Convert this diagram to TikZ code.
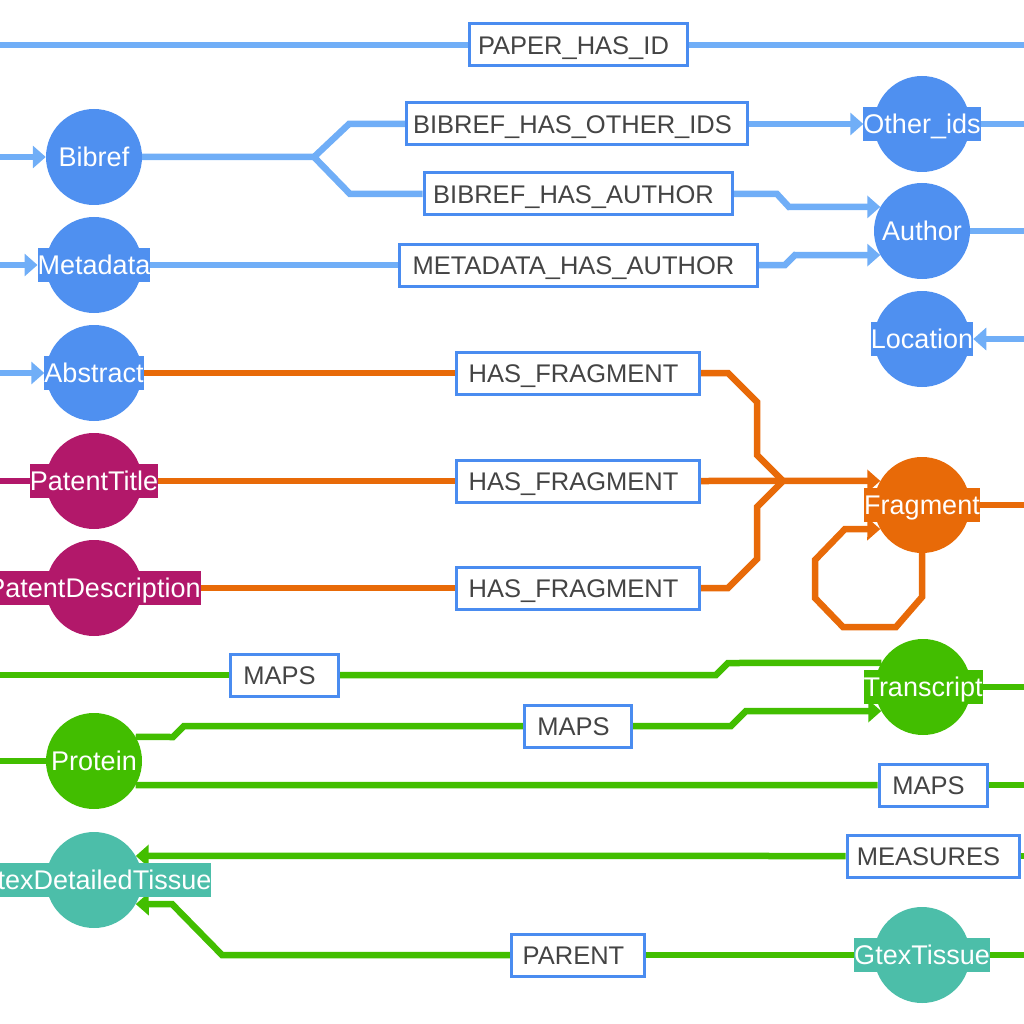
\documentclass[tikz,border=0pt]{standalone}
\usepackage{fontspec}
\setmainfont{Liberation Sans}
\usetikzlibrary{arrows.meta}
\definecolor{nblue}{RGB}{79,144,240}
\definecolor{eblue}{RGB}{112,174,247}
\definecolor{eorange}{RGB}{232,106,8}
\definecolor{nmag}{RGB}{178,24,106}
\definecolor{egreen}{RGB}{66,190,0}
\definecolor{nteal}{RGB}{76,190,169}
\definecolor{lborder}{RGB}{74,140,240}
\definecolor{ltext}{RGB}{68,68,68}
\pgfdeclarelayer{bg}
\pgfsetlayers{bg,main}
\begin{document}
\begin{tikzpicture}[x=1pt,y=-1pt,
  circ/.style={circle, minimum size=96pt, inner sep=0pt, fill=#1},
  nlab/.style={fill=#1, text=white, font=\fontsize{27}{27}\selectfont, inner xsep=0pt, inner ysep=4.5pt, text height=22pt, text depth=3pt},
  elab/.style={draw=lborder, line width=3pt, fill=white, text=ltext, font=\fontsize{25.5}{25.5}\selectfont, minimum height=42pt, inner xsep=0pt, text height=18.3pt, text depth=0pt, minimum width=#1},
  conn/.style={line width=6.5pt, draw=#1},
  arr/.style={-{Triangle[length=13pt,width=22pt]}}]
\useasboundingbox (0,0) rectangle (1024,1024);
\clip (0,0) rectangle (1024,1024);

% ---- entity nodes ----
\node[circ=nblue] (Bibref) at (94,157) {};
\node[nlab=nblue] (BibrefL) at (Bibref) {Bibref};
\node[circ=nblue] (Metadata) at (94,265) {};
\node[nlab=nblue] (MetadataL) at (Metadata) {Metadata};
\node[circ=nblue] (Abstract) at (94,373) {};
\node[nlab=nblue] (AbstractL) at (Abstract) {Abstract};
\node[circ=nmag] (PatentTitle) at (94,481) {};
\node[nlab=nmag] (PatentTitleL) at (PatentTitle) {PatentTitle};
\node[circ=nmag] (PatentDescription) at (94,588) {};
\node[nlab=nmag] (PatentDescriptionL) at (PatentDescription) {PatentDescription};
\node[circ=egreen] (Protein) at (94,761) {};
\node[nlab=egreen] (ProteinL) at (Protein) {Protein};
\node[circ=nteal] (GtexDetailedTissue) at (94,880) {};
\node[nlab=nteal] (GtexDetailedTissueL) at (GtexDetailedTissue) {GtexDetailedTissue};
\node[circ=nblue] (Other_ids) at (922,124) {};
\node[nlab=nblue] (Other_idsL) at (Other_ids) {Other\_ids};
\node[circ=nblue] (Author) at (922,231) {};
\node[nlab=nblue] (AuthorL) at (Author) {Author};
\node[circ=nblue] (Location) at (922,339) {};
\node[nlab=nblue] (LocationL) at (Location) {Location};
\node[circ=eorange] (Fragment) at (922,505) {};
\node[nlab=eorange] (FragmentL) at (Fragment) {Fragment};
\node[circ=egreen] (Transcript) at (923,687) {};
\node[nlab=egreen] (TranscriptL) at (Transcript) {Transcript};
\node[circ=nteal] (GtexTissue) at (922,955) {};
\node[nlab=nteal] (GtexTissueL) at (GtexTissue) {GtexTissue};

% ---- relationship labels ----
\node[elab=218] (PHID) at (578,45) {PAPER\_HAS\_ID\kern9pt};
\node[elab=341] (BOID) at (577,124) {BIBREF\_HAS\_OTHER\_IDS\kern9pt};
\node[elab=308] (BHA) at (578,194) {BIBREF\_HAS\_AUTHOR\kern9pt};
\node[elab=358] (MHA) at (578,265) {METADATA\_HAS\_AUTHOR\kern9pt};
\node[elab=243] (HF1) at (578,373) {HAS\_FRAGMENT\kern9pt};
\node[elab=243] (HF2) at (578,481) {HAS\_FRAGMENT\kern9pt};
\node[elab=243] (HF3) at (578,588) {HAS\_FRAGMENT\kern9pt};
\node[elab=108] (MAPS1) at (284,675) {MAPS\kern9pt};
\node[elab=107] (MAPS2) at (578,726) {MAPS\kern9pt};
\node[elab=108] (MAPS3) at (933,785) {MAPS\kern9pt};
\node[elab=172] (MEAS) at (933,856) {MEASURES\kern9pt};
\node[elab=133] (PARENT) at (578,955) {PARENT\kern9pt};

% ---- free ends ----
\coordinate (inPH) at (0,45);
\coordinate (outPH) at (1024,45);
\coordinate (inBib) at (0,157);
\coordinate (inMeta) at (0,265);
\coordinate (inAbs) at (0,373);
\coordinate (inPT) at (0,481);
\coordinate (outOid) at (1024,124);
\coordinate (outAuth) at (1024,231);
\coordinate (inLoc) at (1024,339);
\coordinate (outFrag) at (1024,505);
\coordinate (inM1) at (0,675);
\coordinate (inProt) at (0,761);
\coordinate (outTr) at (1024,687);
\coordinate (outM3) at (1024,785);
\coordinate (outMe) at (1024,856);
\coordinate (outGT) at (1024,955);
\coordinate (fork) at (314,157);
\coordinate (join) at (783,481);

\begin{pgfonlayer}{bg}
% blue
\draw[conn=eblue] (inPH) -- (PHID.west);
\draw[conn=eblue] (PHID.east) -- (outPH);
\draw[conn=eblue,arr] (inBib) -- (Bibref);
\draw[conn=eblue,arr] (inMeta) -- (MetadataL.west);
\draw[conn=eblue,arr] (inAbs) -- (AbstractL.west);
\draw[conn=eblue] (Bibref.east) -- (fork) -- (349,124) -- (BOID.west);
\draw[conn=eblue] (fork) -- (350,194) -- (BHA.west);
\draw[conn=eblue,arr] (BOID.east) -- (Other_idsL.west);
\draw[conn=eblue,arr] (BHA.east) -- (777,194) -- (789,207) -- (Author.150);
\draw[conn=eblue] (MetadataL.east) -- (MHA.west);
\draw[conn=eblue,arr] (MHA.east) -- (785,265) -- (795,255) -- (Author.210);
\draw[conn=eblue] (Other_idsL.east) -- (outOid);
\draw[conn=eblue] (Author.east) -- (outAuth);
\draw[conn=eblue,arr] (inLoc) -- (LocationL.east);
% orange
\draw[conn=eorange] (AbstractL.east) -- (HF1.west);
\draw[conn=eorange] (PatentTitleL.east) -- (HF2.west);
\draw[conn=eorange] (PatentDescriptionL.east) -- (HF3.west);
\draw[conn=eorange] (HF1.east) -- (728,373) -- (757,402) -- (757,455) -- (join);
\draw[conn=eorange] (HF3.east) -- (728,588) -- (757,559) -- (757,507) -- (join);
\draw[conn=eorange,arr] (HF2.east) -- (Fragment.150);
\draw[conn=eorange] (FragmentL.east) -- (outFrag);
\draw[conn=eorange,arr] (Fragment.south) -- (922,597) -- (896,627) -- (843,627) -- (815,598) -- (815,560) -- (845,529) -- (Fragment.210);
% magenta
\draw[conn=nmag] (inPT) -- (PatentTitleL.west);
% green
\draw[conn=egreen] (inM1) -- (MAPS1.west);
\draw[conn=egreen] (MAPS1.east) -- (716,675) -- (728,663) -- (Transcript.150);
\draw[conn=egreen] (inProt) -- (Protein.west);
\draw[conn=egreen] (Protein.30) -- (173,737) -- (184,726) -- (MAPS2.west);
\draw[conn=egreen,arr] (MAPS2.east) -- (731,726) -- (746,711) -- (Transcript.210);
\draw[conn=egreen] (Protein.-30) -- (MAPS3.west);
\draw[conn=egreen] (MAPS3.east) -- (outM3);
\draw[conn=egreen] (TranscriptL.east) -- (outTr);
\draw[conn=egreen] (outMe) -- (MEAS.east);
\draw[conn=egreen,arr] (MEAS.west) -- (GtexDetailedTissue.30);
\draw[conn=egreen] (GtexTissueL.west) -- (PARENT.east);
\draw[conn=egreen,arr] (PARENT.west) -- (222,955) -- (172,904) -- (GtexDetailedTissue.-30);
\draw[conn=egreen] (GtexTissueL.east) -- (outGT);
\end{pgfonlayer}
\end{tikzpicture}
\end{document}
